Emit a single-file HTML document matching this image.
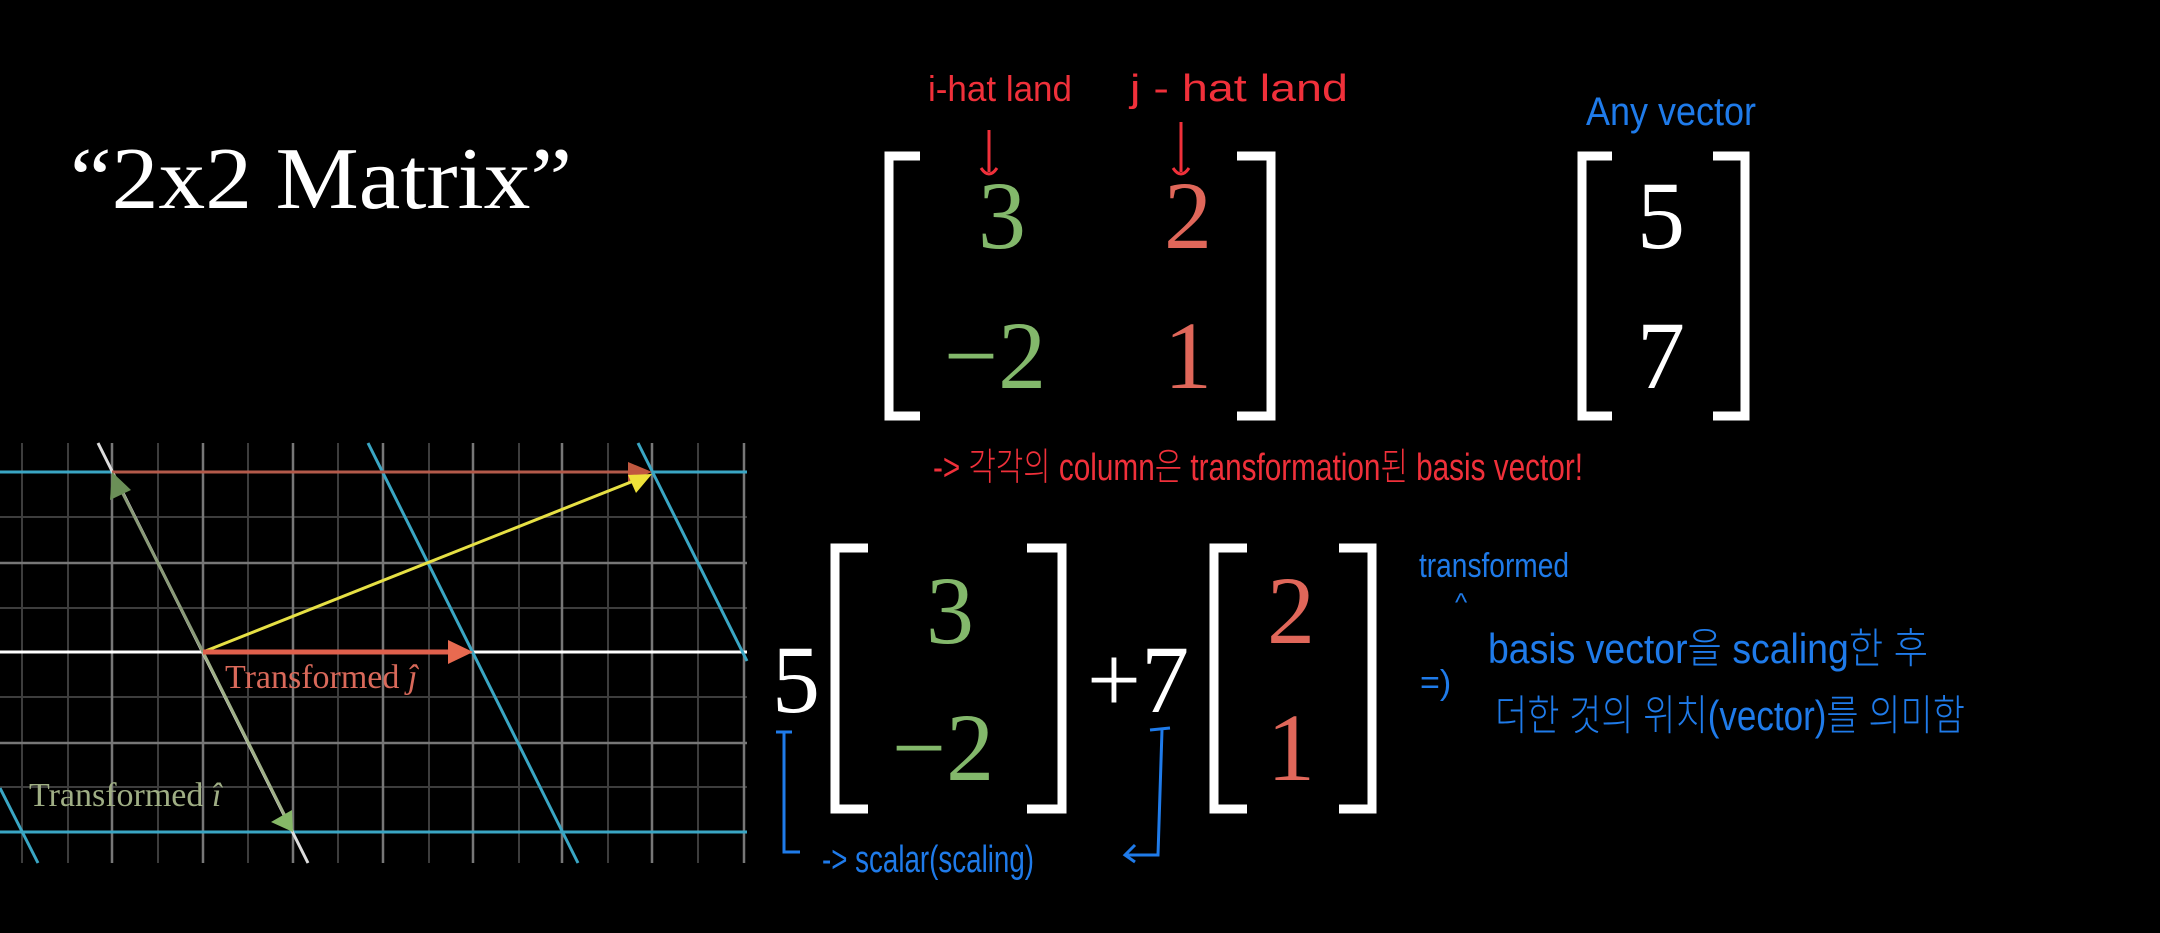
<!DOCTYPE html>
<html><head><meta charset="utf-8"><style>
html,body{margin:0;padding:0;background:#000;}
svg{display:block;}
.m{font-family:"Liberation Serif",serif;font-size:96px;text-anchor:middle;}
.h{font-family:"Liberation Sans","Noto Sans CJK KR",sans-serif;font-weight:300;}
</style></head><body>
<svg width="2160" height="933" viewBox="0 0 2160 933" xmlns="http://www.w3.org/2000/svg">
<rect width="2160" height="933" fill="#000"/>
<text x="70" y="208" font-family="Liberation Serif,serif" font-size="88" fill="#fff" textLength="502" lengthAdjust="spacingAndGlyphs">“2x2 Matrix”</text>

<g>
<g stroke="#3d3d3d" stroke-width="2">
<line x1="22" y1="443" x2="22" y2="863"/><line x1="68" y1="443" x2="68" y2="863"/><line x1="158" y1="443" x2="158" y2="863"/><line x1="248" y1="443" x2="248" y2="863"/><line x1="338" y1="443" x2="338" y2="863"/><line x1="429" y1="443" x2="429" y2="863"/><line x1="519" y1="443" x2="519" y2="863"/><line x1="608" y1="443" x2="608" y2="863"/><line x1="698" y1="443" x2="698" y2="863"/>
<line x1="0" y1="517" x2="747" y2="517"/><line x1="0" y1="608" x2="747" y2="608"/><line x1="0" y1="697" x2="747" y2="697"/><line x1="0" y1="787" x2="747" y2="787"/>
</g>
<g stroke="#777" stroke-width="2.5">
<line x1="112" y1="443" x2="112" y2="863"/><line x1="203" y1="443" x2="203" y2="863"/><line x1="293" y1="443" x2="293" y2="863"/><line x1="383" y1="443" x2="383" y2="863"/><line x1="473" y1="443" x2="473" y2="863"/><line x1="562" y1="443" x2="562" y2="863"/><line x1="652" y1="443" x2="652" y2="863"/><line x1="744" y1="443" x2="744" y2="863"/>
<line x1="0" y1="563" x2="747" y2="563"/><line x1="0" y1="743" x2="747" y2="743"/>
</g>
<line x1="0" y1="652" x2="747" y2="652" stroke="#fff" stroke-width="3"/>
<g stroke="#3aa6c4" stroke-width="3">
<line x1="0" y1="472" x2="112" y2="472"/><line x1="652" y1="472" x2="747" y2="472"/>
<line x1="0" y1="832" x2="747" y2="832"/>
<line x1="368" y1="443" x2="578" y2="863"/>
<line x1="638" y1="443" x2="747" y2="661"/>
<line x1="0" y1="788" x2="38" y2="863"/>
</g>
<line x1="98" y1="443" x2="308" y2="863" stroke="#ddd" stroke-width="3"/>
<line x1="112" y1="472" x2="630" y2="472" stroke="#b35a4a" stroke-width="3"/>
<polygon points="652,472 628,462 628,482" fill="#c0583f"/>
<line x1="203" y1="652" x2="636" y2="480" stroke="#e6e044" stroke-width="3"/>
<polygon points="652,474 628,475 636,493" fill="#eee23a"/>
<line x1="203" y1="652" x2="120" y2="488" stroke="#8a9a78" stroke-width="3"/>
<polygon points="112,472 110,500 131,490" fill="#6b8f57"/>
<line x1="203" y1="652" x2="285" y2="816" stroke="#a0b088" stroke-width="3"/>
<polygon points="293,832 271,822 292,810" fill="#86b867"/>
<line x1="203" y1="652" x2="452" y2="652" stroke="#e0604c" stroke-width="5"/>
<polygon points="473,652 448,640 448,664" fill="#e86a50"/>
<text x="225" y="688" font-family="Liberation Serif,serif" font-size="34" fill="#d9695a">Transformed <tspan font-style="italic">ĵ</tspan></text>
<text x="29" y="806" font-family="Liberation Serif,serif" font-size="34" fill="#9fae84">Transformed <tspan font-style="italic">î</tspan></text>
</g>

<g fill="none" stroke="#fff" stroke-width="9">
<polyline points="920,156 889,156 889,416 920,416"/>
<polyline points="1237,156 1271,156 1271,416 1237,416"/>
<polyline points="1612,156 1582,156 1582,416 1612,416"/>
<polyline points="1713,156 1745,156 1745,416 1713,416"/>
<polyline points="868,548 835,548 835,809 868,809"/>
<polyline points="1027,548 1062,548 1062,809 1027,809"/>
<polyline points="1247,548 1214,548 1214,809 1247,809"/>
<polyline points="1339,548 1372,548 1372,809 1339,809"/>
</g>
<text class="m" x="1002" y="248" fill="#83b86b">3</text>
<text class="m" x="1188" y="248" fill="#e0675a">2</text>
<text class="m" x="995" y="388" fill="#83b86b">−2</text>
<text class="m" x="1188" y="388" fill="#e0675a">1</text>
<text class="m" x="1661" y="248" fill="#fff">5</text>
<text class="m" x="1661" y="388" fill="#fff">7</text>
<text class="m" x="796" y="712" fill="#fff">5</text>
<text class="m" x="950" y="643" fill="#83b86b">3</text>
<text class="m" x="943" y="780" fill="#83b86b">−2</text>
<text class="m" x="1138" y="712" fill="#fff">+7</text>
<text class="m" x="1291" y="643" fill="#e0675a">2</text>
<text class="m" x="1291" y="780" fill="#e0675a">1</text>

<g fill="#f0303a">
<text class="h" x="928" y="101" font-size="36" textLength="144" lengthAdjust="spacingAndGlyphs">i-hat land</text>
<text class="h" x="1130" y="101" font-size="38" textLength="218" lengthAdjust="spacingAndGlyphs">j - hat land</text>
<text class="h" x="933" y="480" font-size="38" textLength="650" lengthAdjust="spacingAndGlyphs">-&gt; 각각의 column은 transformation된 basis vector!</text>
</g>
<g stroke="#f0303a" stroke-width="3" fill="none">
<path d="M989,130 L989,172 M981,168 q8,12 16,0"/>
<path d="M1181,122 L1181,172 M1173,168 q8,12 16,0"/>
</g>
<g fill="#1f7bea">
<text class="h" x="1586" y="125" font-size="40" textLength="170" lengthAdjust="spacingAndGlyphs">Any vector</text>
<text class="h" x="1419" y="577" font-size="34" textLength="150" lengthAdjust="spacingAndGlyphs">transformed</text>
<text class="h" x="1455" y="611" font-size="26">^</text>
<text class="h" x="1420" y="694" font-size="34">=)</text>
<text class="h" x="1488" y="663" font-size="42" textLength="440" lengthAdjust="spacingAndGlyphs">basis vector을 scaling한 후</text>
<text class="h" x="1495" y="730" font-size="42" textLength="470" lengthAdjust="spacingAndGlyphs">더한 것의 위치(vector)를 의미함</text>
<text class="h" x="822" y="872" font-size="38" textLength="212" lengthAdjust="spacingAndGlyphs">-&gt; scalar(scaling)</text>
</g>
<g stroke="#1f7bea" stroke-width="3" fill="none">
<path d="M776,732 L792,732 M784,732 L784,852 L800,852"/>
<path d="M1150,730 L1170,728 M1162,730 L1158,855 L1125,855 M1135,845 L1125,855 L1135,862"/>
</g>
</svg>
</body></html>
